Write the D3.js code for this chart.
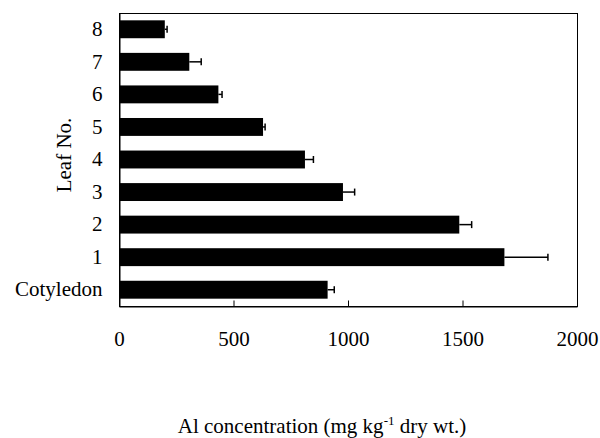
<!DOCTYPE html>
<html>
<head>
<meta charset="utf-8">
<script src="https://cdn.jsdelivr.net/npm/d3@7"></script>
<style>
  body { margin: 0; background: #fff; }
  text { font-family: "Liberation Serif", "Times New Roman", serif; fill: #000; }
</style>
</head>
<body>
<div id="chart"></div>
<script>
/* DATA */
const leaves = ["8", "7", "6", "5", "4", "3", "2", "1", "Cotyledon"];
const alValues = [200, 307, 434, 629, 812, 978, 1486, 1683, 911];
const alErrors = [10, 52, 16, 9, 37, 51, 54, 190, 29];
const xTicks = [0, 500, 1000, 1500, 2000];

/* CONSTANTS */
const width = 600,
  height = 438,
  margin = { top: 13, right: 23, bottom: 132, left: 119 };

const rows = leaves.map((d, i) => ({ leaf: d, value: alValues[i], err: alErrors[i] }));

const svg = d3.select("#chart")
  .append("svg")
  .attr("width", width)
  .attr("height", height);

// scales
const xScale = d3.scaleLinear()
  .domain([0, 2000])
  .range([margin.left, width - margin.right]);

const yScale = d3.scaleBand()
  .domain(leaves)
  .range([margin.top, height - margin.bottom])
  .paddingInner(0.45)
  .paddingOuter(0.225);

// frame
svg.append("rect")
  .attr("x", margin.left + 0.5)
  .attr("y", margin.top + 0.5)
  .attr("width", xScale(2000) - margin.left)
  .attr("height", height - margin.bottom - margin.top)
  .attr("fill", "none")
  .attr("stroke", "#000")
  .attr("stroke-width", 1);

// bars
svg.selectAll("rect.bar")
  .data(rows)
  .join("rect")
  .attr("class", "bar")
  .attr("x", xScale(0))
  .attr("y", d => yScale(d.leaf))
  .attr("width", d => xScale(d.value) - xScale(0))
  .attr("height", yScale.bandwidth())
  .attr("fill", "#000");

// error bars (positive side only)
const errG = svg.append("g")
  .attr("stroke", "#000")
  .attr("stroke-width", 1.5);

errG.selectAll("line.err")
  .data(rows)
  .join("line")
  .attr("class", "err")
  .attr("x1", d => xScale(d.value))
  .attr("x2", d => xScale(d.value + d.err))
  .attr("y1", d => yScale(d.leaf) + yScale.bandwidth() / 2)
  .attr("y2", d => yScale(d.leaf) + yScale.bandwidth() / 2);

errG.selectAll("line.cap")
  .data(rows)
  .join("line")
  .attr("class", "cap")
  .attr("x1", d => xScale(d.value + d.err))
  .attr("x2", d => xScale(d.value + d.err))
  .attr("y1", d => yScale(d.leaf) + yScale.bandwidth() / 2 - 3.5)
  .attr("y2", d => yScale(d.leaf) + yScale.bandwidth() / 2 + 3.5);

// x axis (inward ticks)
const xAxis = d3.axisBottom(xScale)
  .tickValues(xTicks)
  .tickSizeInner(-6)
  .tickSizeOuter(0)
  .tickPadding(25)
  .tickFormat(d3.format("d"));

const xAxisGroup = svg.append("g")
  .attr("transform", `translate(0, ${height - margin.bottom + 0.5})`)
  .call(xAxis);

xAxisGroup.select(".domain").attr("stroke", "#000");
xAxisGroup.selectAll(".tick line").attr("stroke", "#000");
xAxisGroup.selectAll(".tick text")
  .attr("font-size", 21)
  .style("font-family", "'Liberation Serif', 'Times New Roman', serif");

// y axis
const yAxis = d3.axisLeft(yScale)
  .tickSize(0)
  .tickPadding(17);

const yAxisGroup = svg.append("g")
  .attr("transform", `translate(${margin.left + 0.5}, 0)`)
  .call(yAxis);

yAxisGroup.select(".domain").attr("stroke", "#000");
yAxisGroup.selectAll(".tick text")
  .attr("font-size", 21)
  .style("font-family", "'Liberation Serif', 'Times New Roman', serif");

// axis titles
svg.append("text")
  .attr("transform", `translate(71, 155) rotate(-90)`)
  .attr("text-anchor", "middle")
  .attr("font-size", 21)
  .text("Leaf No.");

const xTitle = svg.append("text")
  .attr("x", 322)
  .attr("y", 433)
  .attr("text-anchor", "middle")
  .attr("font-size", 21);

xTitle.append("tspan").text("Al concentration (mg kg");
xTitle.append("tspan").attr("font-size", 13).attr("dy", -8).text("-1");
xTitle.append("tspan").attr("dy", 8).text(" dry wt.)");
</script>
</body>
</html>
